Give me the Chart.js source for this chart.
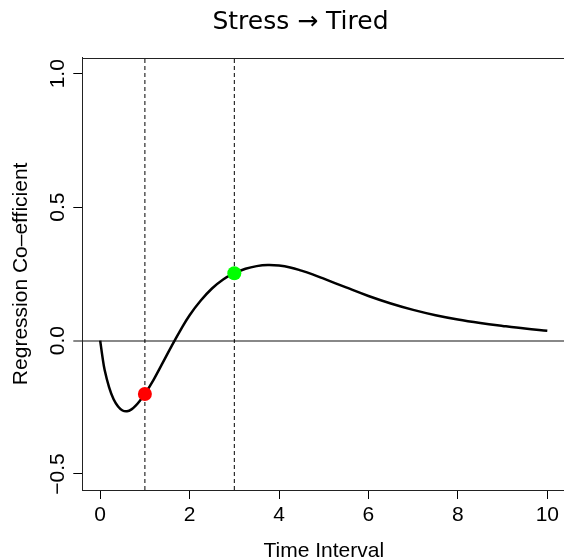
<!DOCTYPE html>
<html>
<head>
<meta charset="utf-8">
<script src="https://cdn.jsdelivr.net/npm/chart.js@4/dist/chart.umd.min.js"></script>
<style>
  html, body { margin: 0; padding: 0; background: #ffffff; overflow: hidden; width: 564px; height: 560px; }
  #wrap { position: absolute; left: 0; top: 0; width: 580px; height: 580px; }
  canvas { display: block; }
</style>
</head>
<body>
<div id="wrap"><canvas id="c" width="580" height="580" style="width:580px;height:580px"></canvas></div>
<script>
// ---- data ----
const chartTitle = "Stress \u2192 Tired";
const xAxisTitle = "Time Interval";
const yAxisTitle = "Regression Co\u2013efficient";
const xTicks = [0, 2, 4, 6, 8, 10];
const xTickLabels = ["0", "2", "4", "6", "8", "10"];
const yTicks = [-0.5, 0, 0.5, 1.0];
const yTickLabels = ["\u22120.5", "0.0", "0.5", "1.0"];
const xLimits = [-0.4, 10.4];
const yLimits = [-0.56, 1.06];

const timeX = [0, 0.05, 0.1, 0.2, 0.3, 0.4, 0.5, 0.6, 0.7, 0.8, 0.9, 1.0, 1.2, 1.4, 1.6, 1.8, 2.0,
               2.25, 2.5, 2.75, 3.0, 3.25, 3.5, 3.75, 4.0, 4.25, 4.5, 4.75, 5.0, 5.5, 6.0, 6.5, 7.0,
               7.5, 8.0, 8.5, 9.0, 9.5, 10.0];
const coefY = [0, -0.06, -0.11, -0.175, -0.22, -0.247, -0.262, -0.265, -0.258, -0.243, -0.223, -0.20,
               -0.145, -0.083, -0.02, 0.04, 0.095, 0.150, 0.195, 0.229, 0.252, 0.269, 0.279, 0.283,
               0.281, 0.274, 0.262, 0.248, 0.232, 0.199, 0.167, 0.139, 0.115, 0.095, 0.079, 0.066,
               0.055, 0.045, 0.037];

const markX = [1, 3];
const markY = [-0.20, 0.252];
const markColors = ["#ff0000", "#00ff00"];

const vlineX = [1, 3];
const hlineY = 0;

// ---- chart ----
const FONT = "'Liberation Sans', Arial, Helvetica, sans-serif";
Chart.defaults.font.family = FONT;
Chart.defaults.color = "#000000";

const curveData = timeX.map((x, i) => ({ x: x, y: coefY[i] }));
const markData = markX.map((x, i) => ({ x: x, y: markY[i] }));

const vlineSets = vlineX.map(x => ({
  type: "line",
  data: [{ x: x, y: yLimits[0] }, { x: x, y: yLimits[1] }],
  borderColor: "#000000",
  borderWidth: 1,
  borderDash: [4, 3],
  pointRadius: 0,
  order: 3
}));

const boxPlugin = {
  id: "boxPlugin",
  beforeDraw(chart) {
    const ctx = chart.ctx;
    ctx.save();
    ctx.fillStyle = "#ffffff";
    ctx.fillRect(0, 0, chart.width, chart.height);
    ctx.restore();
  },
  afterDraw(chart) {
    const ctx = chart.ctx;
    const a = chart.chartArea;
    const ys = chart.scales.y;
    ctx.save();
    // top border of the box
    ctx.strokeStyle = "#222222";
    ctx.lineWidth = 1;
    ctx.beginPath();
    ctx.moveTo(a.left, Math.round(a.top) + 0.5);
    ctx.lineTo(a.right, Math.round(a.top) + 0.5);
    ctx.stroke();
    // rotated y tick labels (R style)
    ctx.fillStyle = "#000000";
    ctx.font = "21px " + FONT;
    ctx.textAlign = "center";
    ctx.textBaseline = "alphabetic";
    ys.ticks.forEach((t, i) => {
      const py = ys.getPixelForValue(t.value);
      ctx.save();
      ctx.translate(63.5, py);
      ctx.rotate(-Math.PI / 2);
      ctx.fillText(yTickLabels[i], 0, 0);
      ctx.restore();
    });
    // main title
    ctx.font = "25px 'DejaVu Sans', sans-serif";
    ctx.textAlign = "center";
    ctx.fillText(chartTitle, 300.5, 28.5);
    ctx.restore();
  }
};

new Chart(document.getElementById("c"), {
  type: "line",
  data: {
    datasets: [
      {
        type: "scatter",
        data: markData,
        backgroundColor: markColors,
        borderColor: markColors,
        pointRadius: 7,
        pointBorderWidth: 0,
        order: 0
      },
      {
        type: "line",
        data: curveData,
        borderColor: "#000000",
        borderWidth: 2.5,
        pointRadius: 0,
        tension: 0.4,
        order: 1
      },
      ...vlineSets
    ]
  },
  options: {
    responsive: false,
    animation: false,
    devicePixelRatio: 1,
    layout: { padding: { left: 0, top: 57.7, right: 14.8, bottom: 0 } },
    plugins: { legend: { display: false }, tooltip: { enabled: false }, title: { display: false } },
    scales: {
      x: {
        type: "linear",
        min: xLimits[0],
        max: xLimits[1],
        afterBuildTicks(scale) { scale.ticks = xTicks.map(v => ({ value: v })); },
        afterFit(scale) { scale.height = 90; },
        ticks: {
          autoSkip: false,
          maxRotation: 0,
          padding: 4,
          font: { size: 21 },
          color: "#000000",
          callback: (v, i) => xTickLabels[i]
        },
        grid: { drawOnChartArea: false, drawTicks: true, tickLength: 9, tickColor: "#000000", tickWidth: 1 },
        border: { display: true, color: "#222222", width: 1 },
        title: { display: true, text: xAxisTitle, font: { size: 21 }, color: "#000000", padding: { top: 0, bottom: 16 } }
      },
      y: {
        type: "linear",
        min: yLimits[0],
        max: yLimits[1],
        afterBuildTicks(scale) { scale.ticks = yTicks.map(v => ({ value: v })); },
        afterFit(scale) { scale.width = 82.3; },
        ticks: { display: false },
        grid: {
          drawOnChartArea: true,
          drawTicks: true,
          tickLength: 9,
          color: (c) => (c.tick && c.tick.value === hlineY ? "#888888" : "rgba(0,0,0,0)"),
          lineWidth: (c) => (c.tick && c.tick.value === hlineY ? 2 : 1),
          tickColor: (c) => (c.tick && c.tick.value === hlineY ? "#888888" : "#000000"),
          tickWidth: (c) => (c.tick && c.tick.value === hlineY ? 2 : 1)
        },
        border: { display: true, color: "#222222", width: 1 },
        title: { display: true, text: yAxisTitle, font: { size: 21 }, color: "#000000", padding: { top: 9.1, bottom: 0 } }
      }
    }
  },
  plugins: [boxPlugin]
});
</script>
</body>
</html>
